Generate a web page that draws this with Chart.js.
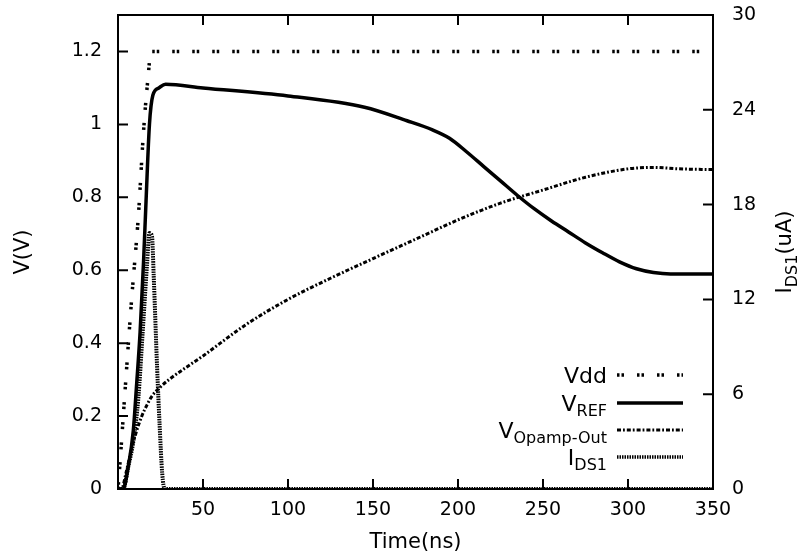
<!DOCTYPE html>
<html>
<head>
<meta charset="utf-8">
<script src="https://cdn.jsdelivr.net/npm/chart.js@4.4.1/dist/chart.umd.min.js"></script>
<style>
  html, body { margin: 0; padding: 0; background: #fff; }
  #wrap { width: 802px; height: 559px; position: relative; }
</style>
</head>
<body>
<div id="wrap"><canvas id="chart"></canvas></div>
<script>
// Дані (час у нс)
const vddTime = [0, 1, 4, 8, 12, 15, 17.5, 19.5, 350];
const vddVolt = [0, 0.06, 0.26, 0.52, 0.75, 0.98, 1.12, 1.2, 1.2];

const vrefTime = [0, 3, 6, 9, 11, 13, 15, 16.5, 18.5, 20.5, 24, 28, 50, 100, 145, 170, 185, 195, 205, 215, 225, 235, 245, 255, 265, 275, 285, 295, 305, 315, 325, 350];
const vrefVolt = [0, 0, 0.06, 0.16, 0.29, 0.43, 0.62, 0.79, 1.0, 1.08, 1.10, 1.11, 1.10, 1.078, 1.047, 1.01, 0.985, 0.962, 0.925, 0.885, 0.845, 0.805, 0.768, 0.735, 0.705, 0.675, 0.648, 0.623, 0.604, 0.594, 0.59, 0.59];

const opampTime = [0, 2, 5, 8, 11, 14, 17, 20, 25, 30, 50, 75, 100, 125, 150, 175, 200, 225, 250, 275, 300, 315, 330, 350];
const opampVolt = [0, 0, 0.05, 0.11, 0.16, 0.2, 0.23, 0.255, 0.28, 0.3, 0.365, 0.45, 0.52, 0.578, 0.632, 0.685, 0.738, 0.784, 0.82, 0.855, 0.878, 0.882, 0.878, 0.876];

const idsTime = [0, 3, 6, 9, 12, 14.5, 17, 18.5, 20, 21, 23, 24.5, 26, 27.5, 350];
const idsCurrent = [0, 0, 1.4, 3, 5.8, 9.9, 14.1, 16.2, 16, 13.5, 7.7, 4, 1, 0, 0];

const legendNames = [['Vdd', ''], ['V', 'REF'], ['V', 'Opamp-Out'], ['I', 'DS1']];

const FONT = '"DejaVu Sans", sans-serif';

function toPoints(xs, ys) {
    return xs.map((x, i) => ({ x: x, y: ys[i] }));
}

// Фіксовані відступи вертикальних осей
function fixVertical(width) {
    return s => {
        s.width = width;
        s.paddingTop = 15;
        s.paddingBottom = 0;
    };
}

// Рамка, внутрішні засічки, підпис правої осі та легенда
const paperFrame = {
    id: 'paperFrame',
    afterDraw(chart) {
        const ctx = chart.ctx;
        const area = chart.chartArea;
        const sx = chart.scales.x, sy = chart.scales.y, sy2 = chart.scales.y2;
        ctx.save();
        ctx.strokeStyle = '#000';
        ctx.lineWidth = 2;
        ctx.setLineDash([]);
        ctx.beginPath();
        ctx.moveTo(area.left - 1, area.top);
        ctx.lineTo(area.right + 1, area.top);
        sx.ticks.forEach(t => {
            const px = sx.getPixelForValue(t.value);
            ctx.moveTo(px, area.bottom);
            ctx.lineTo(px, area.bottom - 10);
            ctx.moveTo(px, area.top);
            ctx.lineTo(px, area.top + 10);
        });
        sy.ticks.forEach(t => {
            const py = sy.getPixelForValue(t.value);
            ctx.moveTo(area.left, py);
            ctx.lineTo(area.left + 10, py);
        });
        sy2.ticks.forEach(t => {
            const py = sy2.getPixelForValue(t.value);
            ctx.moveTo(area.right, py);
            ctx.lineTo(area.right - 10, py);
        });
        ctx.stroke();

        // Підпис правої осі з індексом
        ctx.fillStyle = '#000';
        ctx.textBaseline = 'alphabetic';
        ctx.textAlign = 'left';
        const mainFont = '21px ' + FONT, subFont = '16px ' + FONT;
        ctx.font = mainFont;
        const wI = ctx.measureText('I').width;
        const wU = ctx.measureText('(uA)').width;
        ctx.font = subFont;
        const wS = ctx.measureText('DS1').width;
        const total = wI + wS + wU;
        ctx.save();
        ctx.translate(791, (area.top + area.bottom) / 2);
        ctx.rotate(-Math.PI / 2);
        let cx = -total / 2;
        ctx.font = mainFont;
        ctx.fillText('I', cx, 0);
        cx += wI;
        ctx.font = subFont;
        ctx.fillText('DS1', cx, 6);
        cx += wS;
        ctx.font = mainFont;
        ctx.fillText('(uA)', cx, 0);
        ctx.restore();

        // Легенда
        const rows = [375, 403, 430, 457];
        const textRight = 607;
        chart.data.datasets.forEach((ds, i) => {
            const yRow = rows[i];
            const name = legendNames[i];
            ctx.textAlign = 'right';
            let xr = textRight;
            if (name[1]) {
                ctx.font = '16px ' + FONT;
                ctx.fillText(name[1], xr, yRow + 13);
                xr -= ctx.measureText(name[1]).width;
            }
            ctx.font = '22px ' + FONT;
            ctx.fillText(name[0], xr, yRow + 8);

            ctx.beginPath();
            ctx.lineWidth = Math.min(ds.borderWidth, 3.5);
            ctx.lineCap = 'butt';
            ctx.setLineDash(ds.borderDash || []);
            ctx.moveTo(617, yRow);
            ctx.lineTo(683, yRow);
            ctx.stroke();
        });
        ctx.restore();
    }
};

const tickFont = { family: FONT, size: 19 };
const titleFont = { family: FONT, size: 21 };

new Chart(document.getElementById('chart').getContext('2d'), {
    type: 'line',
    data: {
        datasets: [
            {
                label: 'Vdd',
                data: toPoints(vddTime, vddVolt),
                yAxisID: 'y',
                borderColor: '#000',
                borderWidth: 3.5,
                borderDash: [2.5, 2, 2.5, 13],
                borderCapStyle: 'butt'
            },
            {
                label: 'VREF',
                data: toPoints(vrefTime, vrefVolt),
                yAxisID: 'y',
                borderColor: '#000',
                borderWidth: 3.5
            },
            {
                label: 'VOpamp-Out',
                data: toPoints(opampTime, opampVolt),
                yAxisID: 'y',
                borderColor: '#000',
                borderWidth: 3,
                borderDash: [4, 2, 1.8, 2],
                borderCapStyle: 'butt'
            },
            {
                label: 'IDS1',
                data: toPoints(idsTime, idsCurrent),
                yAxisID: 'y2',
                borderColor: '#000',
                borderWidth: 4,
                borderDash: [1.5, 1],
                borderCapStyle: 'butt'
            }
        ]
    },
    options: {
        responsive: true,
        maintainAspectRatio: false,
        animation: false,
        layout: { padding: 0 },
        elements: {
            point: { radius: 0 },
            line: { cubicInterpolationMode: 'monotone', fill: false }
        },
        plugins: {
            legend: { display: false },
            tooltip: { enabled: false }
        },
        scales: {
            x: {
                type: 'linear',
                min: 0,
                max: 350,
                grid: { display: false, drawTicks: false },
                border: { display: true, color: '#000', width: 2 },
                ticks: {
                    stepSize: 50,
                    maxRotation: 0,
                    padding: 10,
                    color: '#000',
                    font: tickFont,
                    callback: v => (v === 0 ? null : v)
                },
                title: { display: true, text: 'Time(ns)', color: '#000', font: titleFont, padding: { top: 4, bottom: 4 } },
                afterFit: s => { s.height = 70; }
            },
            y: {
                position: 'left',
                min: 0,
                max: 1.3,
                grid: { display: false, drawTicks: false },
                border: { display: true, color: '#000', width: 2 },
                ticks: {
                    stepSize: 0.2,
                    includeBounds: false,
                    padding: 16,
                    color: '#000',
                    font: tickFont,
                    callback: v => String(+v.toFixed(1))
                },
                title: { display: true, text: 'V(V)', color: '#000', font: titleFont, padding: { top: 11, bottom: 0 } },
                afterFit: fixVertical(118)
            },
            y2: {
                position: 'right',
                min: 0,
                max: 30,
                grid: { display: false, drawTicks: false },
                border: { display: true, color: '#000', width: 2 },
                ticks: {
                    stepSize: 6,
                    padding: 19,
                    color: '#000',
                    font: tickFont
                },
                afterFit: fixVertical(89)
            }
        }
    },
    plugins: [paperFrame]
});
</script>
</body>
</html>
